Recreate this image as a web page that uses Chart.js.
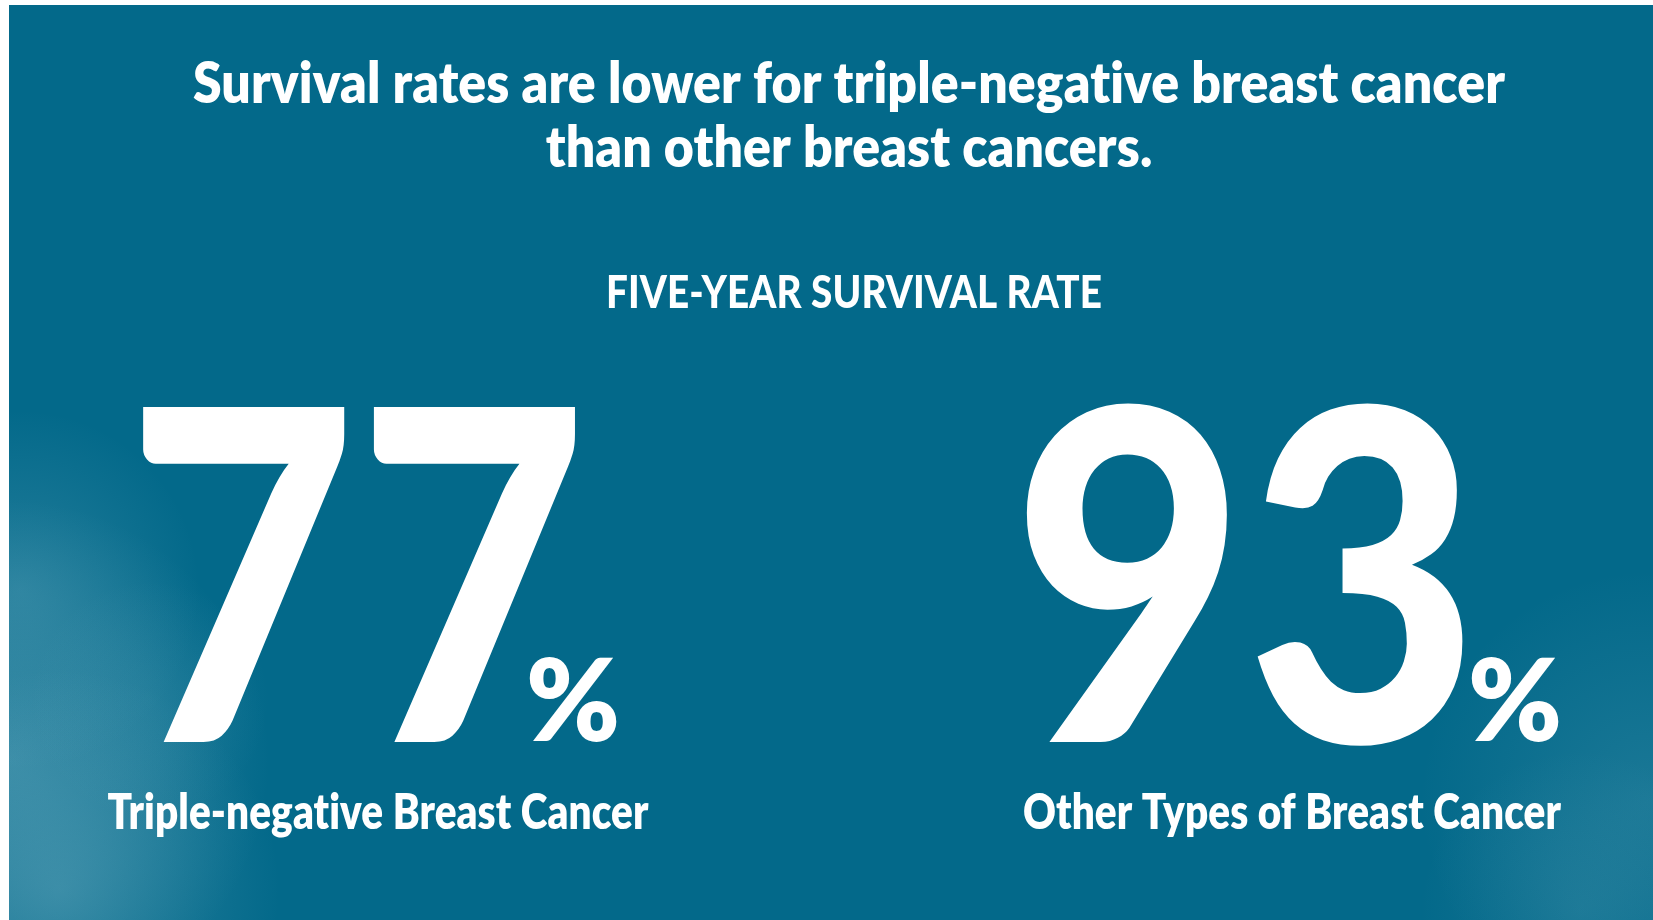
<!DOCTYPE html>
<html>
<head>
<meta charset="utf-8">
<script src="https://cdn.jsdelivr.net/npm/chart.js@4.4.1/dist/chart.umd.min.js"></script>
<style>
    html, body { margin: 0; padding: 0; background: #ffffff; }
    #contenedor { position: relative; width: 1653px; height: 920px; }
</style>
</head>
<body>
<div id="contenedor"><canvas id="chartSupervivencia"></canvas></div>
<script>
const categorias = ["Triple-negative Breast Cancer", "Other Types of Breast Cancer"];
const tasas = [77, 93];
const titulo = ["Survival rates are lower for triple-negative breast cancer", "than other breast cancers."];
const subtitulo = "FIVE-YEAR SURVIVAL RATE";
const sufijo = "%";

const colorFondo = "#03698a";
const colorTexto = "#ffffff";
const fuente = "Lato, 'Open Sans', sans-serif";

// manchas claras tipo acuarela en las esquinas de abajo: [x, y, radio, alfa]
const manchas = [
    [10, 760, 260, 0.32],
    [60, 890, 220, 0.28],
    [20, 590, 180, 0.22],
    [150, 700, 120, 0.10],
    [1650, 800, 230, 0.16],
    [1580, 910, 160, 0.12]
];

function textoComprimido(ctx, texto, cx, base, sx) {
    ctx.save();
    ctx.translate(cx, base);
    ctx.scale(sx, 1);
    ctx.textAlign = "center";
    ctx.fillText(texto, 0, 0);
    ctx.restore();
}

// dibuja el texto para que la tinta ocupe exactamente ancho x alto desde (izq, base)
function textoEnCaja(ctx, texto, izq, base, ancho, alto, peso) {
    ctx.save();
    ctx.font = `${peso} 400px ${fuente}`;
    ctx.textAlign = "left";
    const m = ctx.measureText(texto);
    const anchoTinta = m.actualBoundingBoxLeft + m.actualBoundingBoxRight;
    const altoTinta = m.actualBoundingBoxAscent;
    ctx.translate(izq, base);
    ctx.scale(ancho / anchoTinta, alto / altoTinta);
    ctx.fillText(texto, m.actualBoundingBoxLeft, 0);
    ctx.restore();
}

const pluginFondo = {
    id: "fondo",
    beforeDraw(chart) {
        const ctx = chart.ctx;
        const w = chart.width;
        const h = chart.height;
        ctx.save();
        ctx.fillStyle = "#ffffff";
        ctx.fillRect(0, 0, w, h);
        ctx.beginPath();
        ctx.rect(9, 5, w - 9, h - 5);
        ctx.clip();
        ctx.fillStyle = colorFondo;
        ctx.fillRect(9, 5, w - 9, h - 5);
        manchas.forEach(([x, y, r, a]) => {
            const g = ctx.createRadialGradient(x, y, 0, x, y, r);
            g.addColorStop(0, `rgba(150, 200, 215, ${a})`);
            g.addColorStop(1, "rgba(150, 200, 215, 0)");
            ctx.fillStyle = g;
            ctx.fillRect(x - r, y - r, r * 2, r * 2);
        });
        ctx.restore();
    }
};

const pluginTextos = {
    id: "textos",
    afterDatasetsDraw(chart) {
        const ctx = chart.ctx;
        const meta = chart.getDatasetMeta(0);
        ctx.save();
        ctx.fillStyle = colorTexto;
        ctx.textBaseline = "alphabetic";
        ctx.letterSpacing = "0.1px"; // sin ligaduras "ti"

        // titulo
        ctx.font = `800 56px ${fuente}`;
        const sxTitulo = 1312 / ctx.measureText(titulo[0]).width;
        titulo.forEach((linea, i) => textoComprimido(ctx, linea, 849, 103 + i * 64, sxTitulo));

        // subtitulo
        ctx.font = `900 45px ${fuente}`;
        const sxSub = 496 / ctx.measureText(subtitulo).width;
        textoComprimido(ctx, subtitulo, 854, 308, sxSub);

        // etiquetas de categoria
        ctx.font = `800 50px ${fuente}`;
        const sxEtiq = 541 / ctx.measureText(categorias[0]).width;

        meta.data.forEach((barra, i) => {
            const cx = barra.x;
            const texto = String(tasas[i]);
            const anchoNum = 442;
            const anchoPct = 88;
            const hueco = texto.endsWith("7") ? -51 : 5;
            const izq = cx - (anchoNum + hueco + anchoPct) / 2;

            textoEnCaja(ctx, texto, izq, 742, anchoNum, 339, 900);
            textoEnCaja(ctx, sufijo, izq + anchoNum + hueco, 741, anchoPct, 85, 800);

            ctx.font = `800 50px ${fuente}`;
            textoComprimido(ctx, categorias[i], cx, 829, sxEtiq);
        });
        ctx.restore();
    }
};

const ctxCanvas = document.getElementById("chartSupervivencia");

new Chart(ctxCanvas, {
    type: "bar",
    data: {
        labels: categorias,
        datasets: [{
            label: subtitulo,
            data: tasas,
            backgroundColor: "rgba(0,0,0,0)",
            borderWidth: 0
        }]
    },
    options: {
        responsive: true,
        maintainAspectRatio: false,
        animation: false,
        layout: {
            padding: { left: 378, right: 361, top: 400, bottom: 180 }
        },
        plugins: {
            legend: { display: false },
            title: { display: false },
            tooltip: { enabled: false }
        },
        scales: {
            x: { display: false, offset: false },
            y: { display: false, min: 0, max: 100 }
        }
    },
    plugins: [pluginFondo, pluginTextos]
});
</script>
</body>
</html>
